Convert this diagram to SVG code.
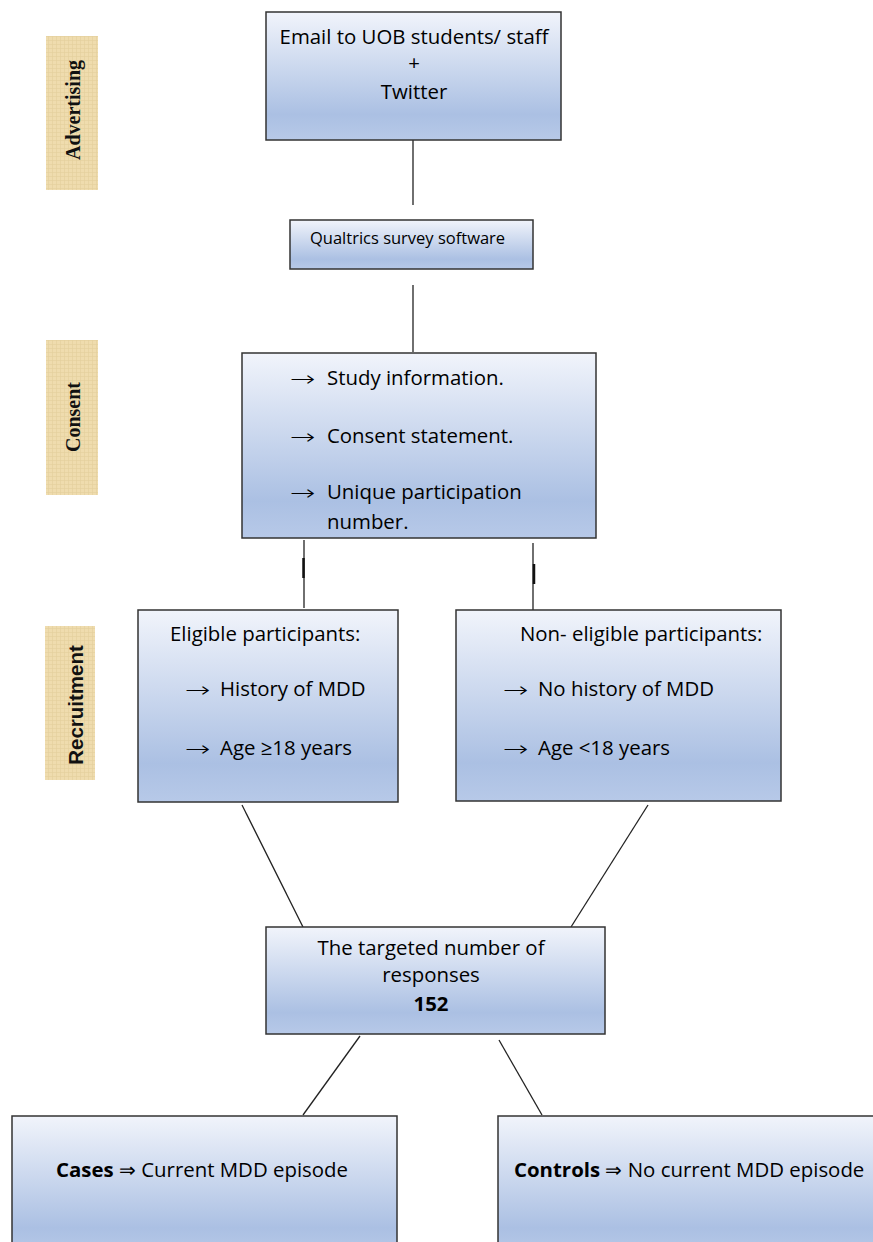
<svg xmlns="http://www.w3.org/2000/svg" width="873" height="1242" viewBox="0 0 873 1242">
<defs>
<linearGradient id="g" x1="0" y1="0" x2="0" y2="1">
<stop offset="0" stop-color="#f1f4fb"/>
<stop offset="0.8" stop-color="#abc0e3"/>
<stop offset="1" stop-color="#b7c9e8"/>
</linearGradient>
<pattern id="paper" width="4" height="4" patternUnits="userSpaceOnUse">
<rect width="4" height="4" fill="#efdcae"/>
<path d="M0 0.5H4M0.5 0V4" stroke="#e3cf9c" stroke-width="0.6"/>
</pattern>
<style>
.box{fill:url(#g);stroke:#333;stroke-width:1.5}
.tag{fill:url(#paper)}
.t{font-family:"Open Sans","Liberation Sans",Arial,sans-serif;font-size:20.4px;fill:#000}
.c{text-anchor:middle}
.b{font-weight:bold}
.ar{font-family:"DejaVu Sans",sans-serif;font-size:21px;font-weight:200;fill:#000}
.serif{font-family:"Liberation Serif","Times New Roman",serif;font-size:20px;font-weight:bold;fill:#111;text-anchor:middle}
.sans{font-family:"Liberation Sans",Arial,sans-serif;font-size:20.5px;font-weight:bold;fill:#111;text-anchor:middle}
.ln{stroke:#222;stroke-width:1.3;fill:none}
</style>
</defs>
<rect width="873" height="1242" fill="#fff"/>

<g id="tag-advertising">
<rect class="tag" x="46" y="36" width="52" height="154"/>
<text class="serif" transform="translate(80,110) rotate(-90)">Advertising</text>
</g>
<g id="tag-consent">
<rect class="tag" x="46" y="340" width="52" height="155"/>
<text class="serif" transform="translate(80,417) rotate(-90)">Consent</text>
</g>
<g id="tag-recruitment">
<rect class="tag" x="45" y="626" width="50" height="154"/>
<text class="sans" transform="translate(83,705) rotate(-90)">Recruitment</text>
</g>

<g id="connectors">
<line class="ln" x1="413" y1="140" x2="413" y2="205"/>
<line class="ln" x1="413" y1="285" x2="413" y2="352"/>
<line class="ln" x1="304" y1="540" x2="304" y2="608"/>
<line x1="303.5" y1="558" x2="303.5" y2="578" stroke="#111" stroke-width="2.5"/>
<line class="ln" x1="533" y1="543" x2="533" y2="610"/>
<line x1="534" y1="564" x2="534" y2="584" stroke="#111" stroke-width="2.5"/>
<line class="ln" x1="242" y1="805" x2="303" y2="927"/>
<line class="ln" x1="648" y1="805" x2="571" y2="927"/>
<line class="ln" x1="360" y1="1036" x2="303" y2="1115"/>
<line class="ln" x1="499" y1="1040" x2="542" y2="1115"/>
</g>

<g id="n-email">
<rect class="box" x="266" y="12" width="295" height="128"/>
<text class="t c" x="414" y="44">Email to UOB students/ staff</text>
<text class="t c" x="414" y="70">+</text>
<text class="t c" x="414" y="99">Twitter</text>
</g>

<g id="n-qualtrics">
<rect class="box" x="290" y="220" width="243" height="49"/>
<text class="t" x="310" y="244" style="font-size:16.5px">Qualtrics survey software</text>
</g>

<g id="n-consent">
<rect class="box" x="242" y="353" width="354" height="185"/>
<text class="ar" transform="translate(290,386) scale(1.45,1)">→</text>
<text class="t" x="327" y="385">Study information.</text>
<text class="ar" transform="translate(290,444) scale(1.45,1)">→</text>
<text class="t" x="327" y="443">Consent statement.</text>
<text class="ar" transform="translate(290,500) scale(1.45,1)">→</text>
<text class="t" x="327" y="499">Unique participation</text>
<text class="t" x="327" y="529">number.</text>
</g>

<g id="n-eligible">
<rect class="box" x="138" y="610" width="260" height="192"/>
<text class="t" x="170" y="641">Eligible participants:</text>
<text class="ar" transform="translate(185,697) scale(1.45,1)">→</text>
<text class="t" x="220" y="696">History of MDD</text>
<text class="ar" transform="translate(185,756) scale(1.45,1)">→</text>
<text class="t" x="220" y="755">Age  ≥18 years</text>
</g>

<g id="n-noneligible">
<rect class="box" x="456" y="610" width="325" height="191"/>
<text class="t" x="520" y="641">Non- eligible participants:</text>
<text class="ar" transform="translate(503,697) scale(1.45,1)">→</text>
<text class="t" x="538" y="696">No history of MDD</text>
<text class="ar" transform="translate(503,756) scale(1.45,1)">→</text>
<text class="t" x="538" y="755">Age &lt;18 years</text>
</g>

<g id="n-target">
<rect class="box" x="266" y="927" width="339" height="107"/>
<text class="t c" x="431" y="955">The targeted number of</text>
<text class="t c" x="431" y="982">responses</text>
<text class="t c b" x="431" y="1011">152</text>
</g>

<g id="n-cases">
<rect class="box" x="12" y="1116" width="385" height="140"/>
<text class="t" x="56" y="1177"><tspan class="b">Cases</tspan> ⇒ Current MDD episode</text>
</g>

<g id="n-controls">
<rect class="box" x="498" y="1116" width="385" height="140"/>
<text class="t" x="514" y="1177"><tspan class="b">Controls</tspan>  ⇒ No current MDD episode</text>
</g>
</svg>
